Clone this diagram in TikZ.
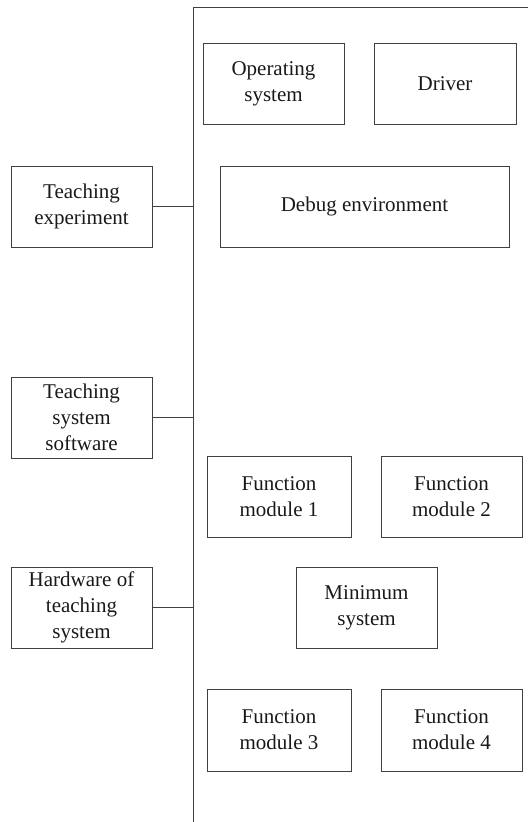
\documentclass[tikz,border=0pt]{standalone}
\usepackage{fontspec}
\setmainfont{Liberation Serif}
\begin{document}
\begin{tikzpicture}[x=1pt,y=-1pt,
  ln/.style={draw=black!75,line width=1pt},
  boxnode/.style={ln,rectangle,align=center,inner sep=0pt,minimum height=81pt,
    font=\fontsize{21}{26}\selectfont,text=black!90}]
\useasboundingbox (0,0) rectangle (528,822);
\coordinate (busR) at (528,7);
\coordinate (busT) at (193,7);
\coordinate (busB) at (193,822);
\draw[ln] (busR) -- (busT) -- (busB);

\node[boxnode,minimum width=141pt] (os) at (273.5,83.5) {Operating\\system};
\node[boxnode,minimum width=142pt] (drv) at (445,83.5) {Driver};
\node[boxnode,minimum width=289pt] (dbg) at (364.5,206.5) {Debug environment};

\node[boxnode,minimum width=141pt] (te) at (81.5,206.5) {Teaching\\experiment};
\node[boxnode,minimum width=141pt] (tss) at (81.5,417.5) {Teaching\\system\\software};
\node[boxnode,minimum width=141pt] (hw) at (81.5,607.5) {Hardware of\\teaching\\system};

\node[boxnode,minimum width=144pt] (fm1) at (279,496.5) {Function\\module 1};
\node[boxnode,minimum width=141pt] (fm2) at (451.5,496.5) {Function\\module 2};
\node[boxnode,minimum width=141pt] (min) at (366.5,607.5) {Minimum\\system};
\node[boxnode,minimum width=144pt,minimum height=82pt] (fm3) at (279,730) {Function\\module 3};
\node[boxnode,minimum width=141pt,minimum height=82pt] (fm4) at (451.5,730) {Function\\module 4};

\draw[ln] (te.east) -- (te.east -| busT);
\draw[ln] (tss.east) -- (tss.east -| busT);
\draw[ln] (hw.east) -- (hw.east -| busT);
\end{tikzpicture}
\end{document}
